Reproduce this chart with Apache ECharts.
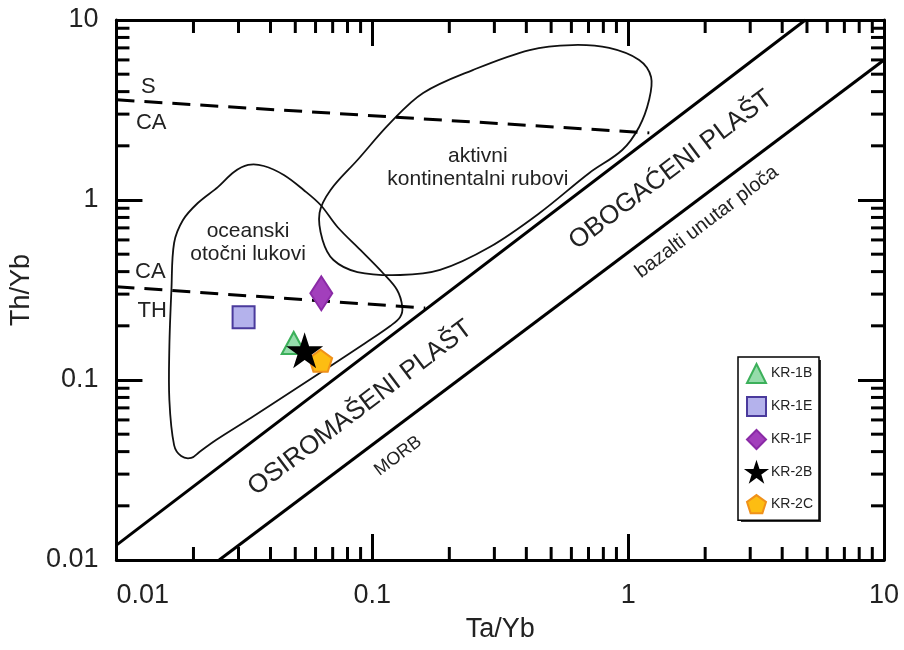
<!DOCTYPE html>
<html>
<head>
<meta charset="utf-8">
<script src="https://cdn.jsdelivr.net/npm/echarts@6/dist/echarts.min.js"></script>
<style>
  html, body { margin: 0; padding: 0; background: #fff; }
  #chart { width: 904px; height: 650px; }
</style>
</head>
<body>
<div id="chart"></div>
<script>
// uzorci (Ta/Yb, Th/Yb)
var samples = ['KR-1B', 'KR-1E', 'KR-1F', 'KR-2B', 'KR-2C'];
var taYb = [0.0493, 0.0314, 0.0632, 0.0544, 0.0628];
var thYb = [0.1606, 0.223, 0.303, 0.1455, 0.128];

// granice polja
var mantleUpper = [[0.01, 0.0121], [4.93, 10]];
var mantleLower = [[0.0252, 0.01], [10, 5.99]];
var sCaLine = [[0.01, 3.6], [1.21, 2.36]];
var caThLine = [[0.01, 0.33], [0.161, 0.251]];

var oceanArc = [
  [0.0327, 1.565], [0.0377, 1.545], [0.0451, 1.377], [0.0539, 1.137], [0.0628, 0.938],
  [0.0731, 0.708], [0.0898, 0.528], [0.110, 0.393], [0.125, 0.316], [0.131, 0.254],
  [0.1285, 0.224], [0.1175, 0.1995], [0.094, 0.1606], [0.0687, 0.1197], [0.048, 0.0858],
  [0.0335, 0.0615], [0.0245, 0.0464], [0.0211, 0.0398], [0.0196, 0.0369], [0.0179, 0.0378],
  [0.0168, 0.0435], [0.0161, 0.0774], [0.0161, 0.1525], [0.0164, 0.316], [0.0168, 0.577],
  [0.0182, 0.774], [0.0208, 0.962], [0.0249, 1.18], [0.0288, 1.43]
];
var activeMargin = [
  [0.0622, 0.847], [0.0639, 0.6], [0.0705, 0.464], [0.0875, 0.398], [0.1285, 0.383],
  [0.184, 0.409], [0.2877, 0.548], [0.4508, 0.847], [0.705, 1.413], [0.948, 1.895],
  [1.104, 2.545], [1.207, 3.59], [1.229, 4.82], [1.104, 5.99], [0.843, 6.99],
  [0.605, 7.26], [0.412, 6.81], [0.247, 5.27], [0.158, 3.93], [0.1175, 2.68],
  [0.0875, 1.668], [0.0687, 1.137]
];

// natpisi u dijagramu
var labelText = ['S', 'CA', 'CA', 'TH', 'oceanski\notočni lukovi', 'aktivni\nkontinentalni rubovi',
  'OBOGAĆENI PLAŠT', 'bazalti unutar ploča', 'OSIROMAŠENI PLAŠT', 'MORB'];
var labelX = [0.01332, 0.01368, 0.01356, 0.0138, 0.0327, 0.2585, 1.469, 2.03, 0.0898, 0.126];
var labelY = [4.25, 2.68, 0.398, 0.2416, 0.577, 1.506, 1.468, 0.755, 0.0699, 0.0378];

var xMinorTicks = [0.02, 0.03, 0.04, 0.05, 0.06, 0.07, 0.08, 0.09, 0.2, 0.3, 0.4, 0.5, 0.6, 0.7, 0.8, 0.9, 2, 3, 4, 5, 6, 7, 8, 9];
var yMinorTicks = [0.02, 0.03, 0.04, 0.05, 0.06, 0.07, 0.08, 0.09, 0.2, 0.3, 0.4, 0.5, 0.6, 0.7, 0.8, 0.9, 2, 3, 4, 5, 6, 7, 8, 9];

// stil
var FONT = '"Liberation Sans", Arial, sans-serif';
var labelSize = [22, 22, 22, 22, 21, 21, 26, 20, 26, 18];
var labelRot = [0, 0, 0, 0, 0, 0, 37, 37, 37, 37];

var starPath = 'path://M0,-1L0.2245,-0.309L0.951,-0.309L0.363,0.118L0.588,0.809L0,0.382L-0.588,0.809L-0.363,0.118L-0.951,-0.309L-0.2245,-0.309Z';
var pentaPath = 'path://M0,-1L0.951,-0.309L0.588,0.809L-0.588,0.809L-0.951,-0.309Z';
var markStyle = [
  { symbol: 'triangle', size: [24, 22], fill: '#95dcab', stroke: '#3cb05a' },
  { symbol: 'rect', size: [22, 22], fill: '#b4b2ec', stroke: '#4a3a9c' },
  { symbol: 'diamond', size: [22, 34], fill: '#a23fbc', stroke: '#8a2aa6' },
  { symbol: starPath, size: [31, 30], fill: '#000', stroke: '#000' },
  { symbol: pentaPath, size: [23, 22], fill: '#fdbd12', stroke: '#f0911a' }
];

function lineSeries(pts, dashed) {
  return {
    type: 'line', data: pts, showSymbol: false, silent: true, z: 3,
    lineStyle: { color: '#000', width: 3, type: dashed ? [18, 10] : 'solid' }
  };
}

function polySeries(pts) {
  return {
    type: 'custom', data: [[0.1, 1]], silent: true, z: 2,
    renderItem: function (params, api) {
      var p = pts.map(function (d) { return api.coord(d); });
      return { type: 'polygon', shape: { points: p, smooth: 0.35 },
        style: { fill: 'none', stroke: '#111', lineWidth: 1.8 } };
    }
  };
}

var series = [
  polySeries(oceanArc),
  polySeries(activeMargin),
  lineSeries(mantleUpper, false),
  lineSeries(mantleLower, false),
  lineSeries(sCaLine, true),
  lineSeries(caThLine, true),
  { // natpisi
    type: 'custom', silent: true, z: 4,
    data: labelText.map(function (t, i) { return [labelX[i], labelY[i]]; }),
    renderItem: function (params, api) {
      var i = params.dataIndex;
      var c = api.coord([api.value(0), api.value(1)]);
      return { type: 'text', x: c[0], y: c[1], rotation: labelRot[i] * Math.PI / 180,
        style: { text: labelText[i], fontSize: labelSize[i], fontFamily: FONT, fill: '#222',
          align: 'center', verticalAlign: 'middle', lineHeight: labelSize[i] + 2 } };
    }
  },
  { // sporedne oznake na x osi
    type: 'custom', silent: true, z: 5,
    data: xMinorTicks.map(function (v) { return [v, 1]; }),
    renderItem: function (params, api) {
      var v = api.value(0);
      var b = api.coord([v, 0.01]), t = api.coord([v, 10]);
      return { type: 'group', children: [
        { type: 'line', shape: { x1: b[0], y1: b[1], x2: b[0], y2: b[1] - 13 }, style: { stroke: '#000', lineWidth: 3 } },
        { type: 'line', shape: { x1: t[0], y1: t[1], x2: t[0], y2: t[1] + 13 }, style: { stroke: '#000', lineWidth: 3 } }
      ] };
    }
  },
  { // sporedne oznake na y osi
    type: 'custom', silent: true, z: 5,
    data: yMinorTicks.map(function (v) { return [1, v]; }),
    renderItem: function (params, api) {
      var v = api.value(1);
      var l = api.coord([0.01, v]), r = api.coord([10, v]);
      return { type: 'group', children: [
        { type: 'line', shape: { x1: l[0], y1: l[1], x2: l[0] + 13, y2: l[1] }, style: { stroke: '#000', lineWidth: 3 } },
        { type: 'line', shape: { x1: r[0], y1: r[1], x2: r[0] - 13, y2: r[1] }, style: { stroke: '#000', lineWidth: 3 } }
      ] };
    }
  }
];

var order = [0, 1, 2, 4, 3]; // zvijezda iznad peterokuta
order.forEach(function (i) {
  var m = markStyle[i];
  series.push({
    type: 'scatter', name: samples[i], z: 10 + order.indexOf(i),
    data: [[taYb[i], thYb[i]]],
    symbol: m.symbol, symbolSize: m.size,
    itemStyle: { color: m.fill, borderColor: m.stroke, borderWidth: 2, opacity: 1 }
  });
});

function axisBase(extra) {
  var a = {
    type: 'log', logBase: 10, min: 0.01, max: 10,
    axisLine: { show: true, onZero: false, lineStyle: { color: '#000', width: 3 } },
    axisTick: { show: true, inside: true, length: 26, lineStyle: { color: '#000', width: 3 } },
    axisLabel: { show: false },
    splitLine: { show: false },
    minorTick: { show: false }
  };
  for (var k in extra) a[k] = extra[k];
  return a;
}

var option = {
  backgroundColor: '#fff',
  animation: false,
  textStyle: { fontFamily: FONT },
  grid: { left: 115, right: 20, top: 20, bottom: 90, containLabel: false },
  xAxis: [
    axisBase({ position: 'bottom', name: 'Ta/Yb', nameLocation: 'middle', nameGap: 56,
      nameTextStyle: { fontSize: 27, color: '#222', fontFamily: FONT },
      axisLabel: { show: true, fontSize: 27, color: '#222', margin: 22, fontFamily: FONT, alignMinLabel: 'left' } }),
    axisBase({ position: 'top' })
  ],
  yAxis: [
    axisBase({ position: 'left', name: 'Th/Yb', nameLocation: 'middle', nameGap: 75,
      nameTextStyle: { fontSize: 27, color: '#222', fontFamily: FONT },
      axisLabel: { show: true, fontSize: 27, color: '#222', margin: 18, fontFamily: FONT } }),
    axisBase({ position: 'right' })
  ],
  legend: {
    orient: 'vertical', left: 738, top: 357, z: 6,
    data: samples,
    itemWidth: 19, itemHeight: 19, itemGap: 12,
    padding: [6, 6, 6, 8],
    backgroundColor: '#fff', borderColor: '#000', borderWidth: 1.5,
    selectedMode: false,
    textStyle: { fontSize: 14, color: '#222', fontFamily: FONT }
  },
  // sjena okvira legende
  graphic: [{
    type: 'rect', z: 5, silent: true,
    shape: { x: 741, y: 360, width: 80, height: 162 },
    style: { fill: '#333' }
  }],
  series: series
};

var myChart = echarts.init(document.getElementById('chart'));
myChart.setOption(option);
</script>
</body>
</html>
